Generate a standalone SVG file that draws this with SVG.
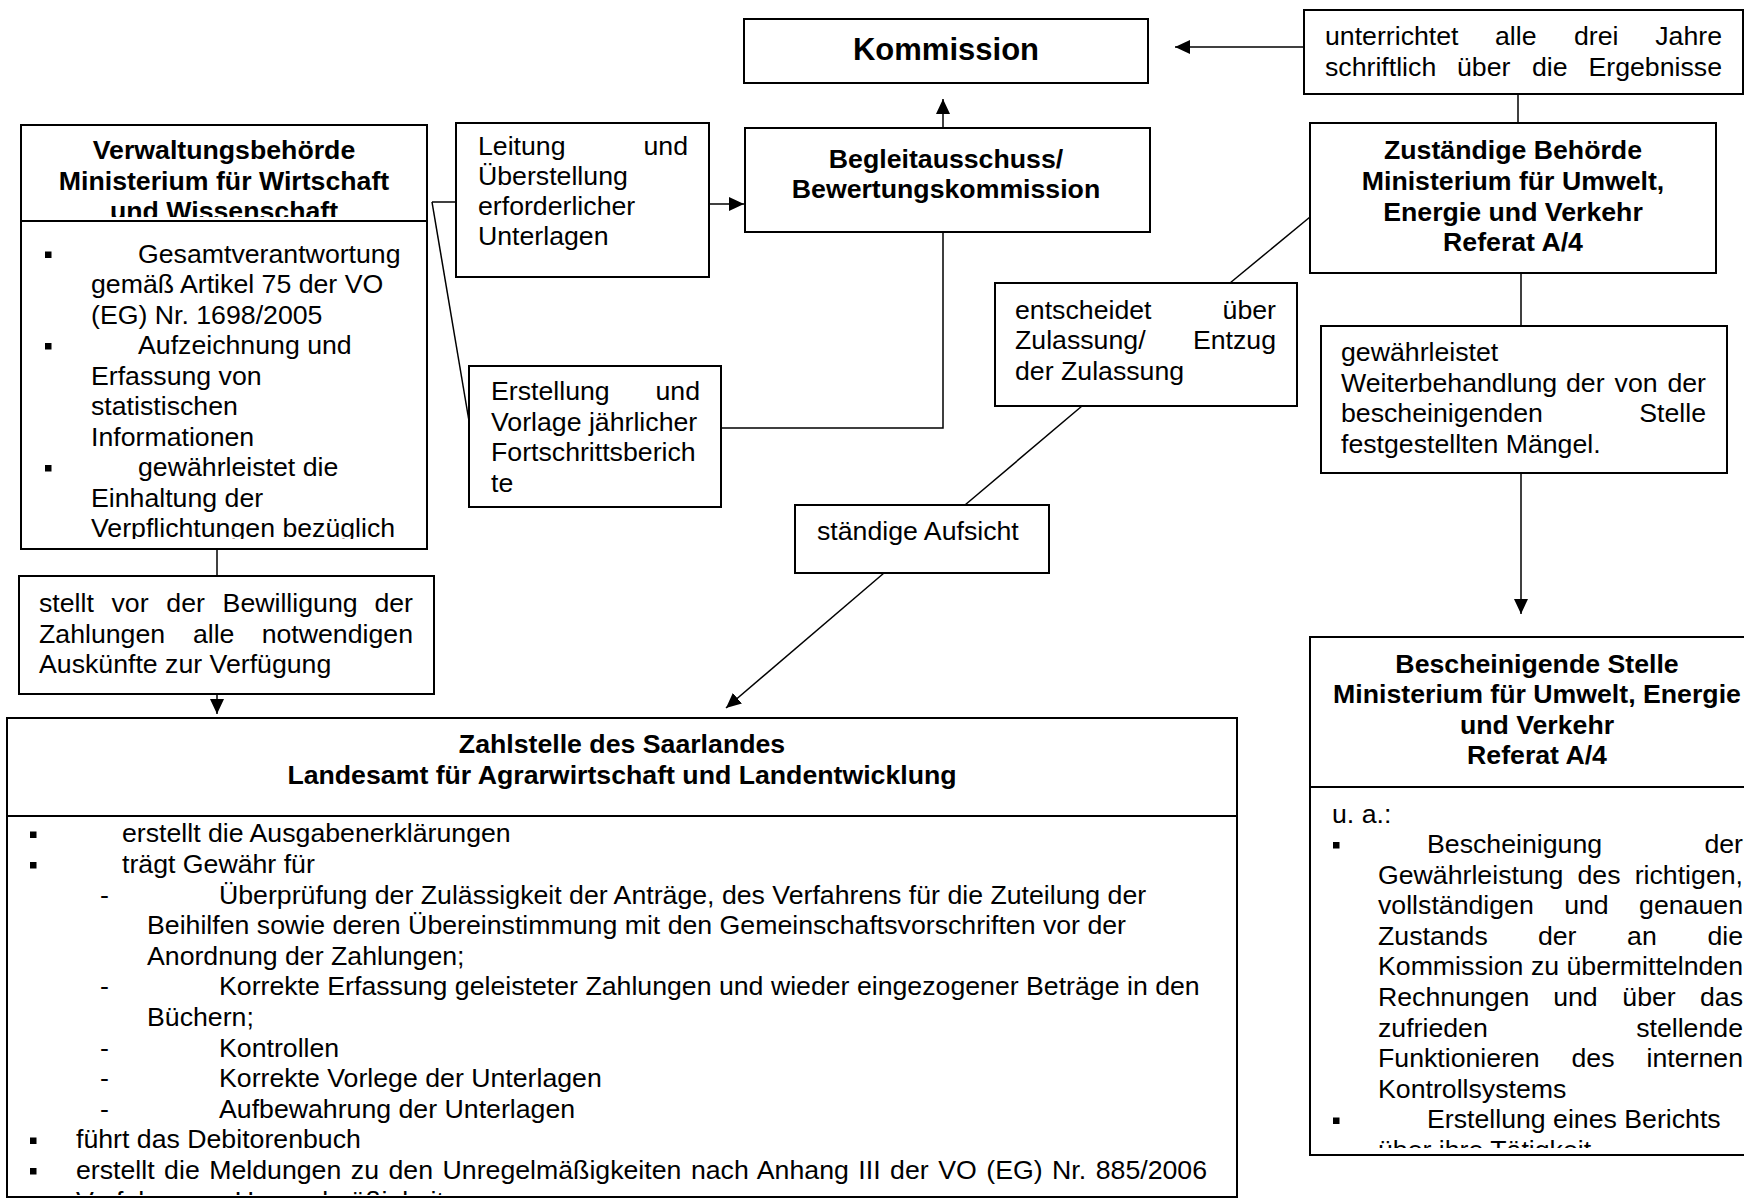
<svg xmlns="http://www.w3.org/2000/svg" width="1744" height="1201" viewBox="0 0 1744 1201">
<style>
.box{fill:#fff;stroke:#000;stroke-width:2}
.dv{stroke:#000;stroke-width:2}
.t{font-family:"Liberation Sans",Arial,sans-serif;font-size:26.7px;fill:#000}
.b{font-weight:bold}
.c{text-anchor:middle}
.e{text-anchor:end}
.ln{stroke:#000;stroke-width:1.5;fill:none}
.arr{marker-end:url(#ah)}
.bl{fill:#000}
</style>
<defs>
<marker id="ah" markerUnits="userSpaceOnUse" markerWidth="16" markerHeight="14" refX="15" refY="7" orient="auto"><path d="M0,0 L15,7 L0,14 z" fill="#000"/></marker>
<clipPath id="cVH"><rect x="21" y="125" width="406" height="92"/></clipPath>
<clipPath id="cVB"><rect x="21" y="221" width="406" height="318"/></clipPath>
<clipPath id="cZB"><rect x="7" y="816" width="1230" height="379"/></clipPath>
<clipPath id="cBB"><rect x="1310" y="787" width="440" height="361"/></clipPath>
</defs>

<g id="connectors">
<line class="ln arr" x1="1304" y1="47" x2="1175" y2="47"/>
<line class="ln" x1="1518" y1="94" x2="1518" y2="123"/>
<line class="ln arr" x1="943" y1="128" x2="943" y2="99"/>
<line class="ln" x1="432" y1="202" x2="456" y2="202"/>
<line class="ln" x1="432" y1="202" x2="469" y2="421"/>
<line class="ln arr" x1="709" y1="204" x2="744" y2="204"/>
<polyline class="ln" points="943,232 943,428 721,428"/>
<line class="ln" x1="1310" y1="217" x2="1230" y2="283"/>
<line class="ln" x1="1082" y1="406" x2="965" y2="505"/>
<line class="ln arr" x1="884" y1="573" x2="726" y2="708"/>
<line class="ln" x1="1521" y1="273" x2="1521" y2="326"/>
<line class="ln arr" x1="1521" y1="473" x2="1521" y2="614"/>
<line class="ln" x1="217" y1="549" x2="217" y2="576"/>
<line class="ln arr" x1="217" y1="694" x2="217" y2="714"/>
</g>

<g id="kommission">
<rect class="box" x="744" y="19" width="404" height="64"/>
<text class="t b c" x="946" y="60" style="font-size:31px">Kommission</text>
</g>

<g id="unterrichtet">
<rect class="box" x="1304" y="10" width="439" height="84"/>
<text class="t" y="45"><tspan x="1325">unterrichtet</tspan><tspan x="1495">alle</tspan><tspan x="1574">drei</tspan></text>
<text class="t e" x="1722" y="45">Jahre</text>
<text class="t" y="76"><tspan x="1325">schriftlich</tspan><tspan x="1457">über</tspan><tspan x="1532">die</tspan></text>
<text class="t e" x="1722" y="76">Ergebnisse</text>
</g>

<g id="begleitausschuss">
<rect class="box" x="745" y="128" width="405" height="104"/>
<text class="t b c" x="946" y="167.5">Begleitausschuss/</text>
<text class="t b c" x="946" y="198">Bewertungskommission</text>
</g>

<g id="leitung">
<rect class="box" x="456" y="123" width="253" height="154"/>
<text class="t" x="478" y="155">Leitung</text>
<text class="t e" x="688" y="155">und</text>
<text class="t" x="478" y="185">Überstellung</text>
<text class="t" x="478" y="215">erforderlicher</text>
<text class="t" x="478" y="245">Unterlagen</text>
</g>

<g id="erstellung">
<rect class="box" x="469" y="366" width="252" height="141"/>
<text class="t" x="491" y="400">Erstellung</text>
<text class="t e" x="700" y="400">und</text>
<text class="t" x="491" y="430.5">Vorlage jährlicher</text>
<text class="t" x="491" y="461">Fortschrittsberich</text>
<text class="t" x="491" y="491.5">te</text>
</g>

<g id="verwaltungsbehoerde">
<rect class="box" x="21" y="125" width="406" height="424"/>
<line class="dv" x1="21" y1="221" x2="427" y2="221"/>
<g clip-path="url(#cVH)">
<text class="t b c" x="224" y="159">Verwaltungsbehörde</text>
<text class="t b c" x="224" y="189.5">Ministerium für Wirtschaft</text>
<text class="t b c" x="224" y="220">und Wissenschaft</text>
</g>
<g clip-path="url(#cVB)">
<rect class="bl" x="45" y="251.5" width="6.5" height="6.5"/>
<text class="t" x="138" y="262.5">Gesamtverantwortung</text>
<text class="t" x="91" y="293">gemäß Artikel 75 der VO</text>
<text class="t" x="91" y="323.5">(EG) Nr. 1698/2005</text>
<rect class="bl" x="45" y="343" width="6.5" height="6.5"/>
<text class="t" x="138" y="354">Aufzeichnung und</text>
<text class="t" x="91" y="384.5">Erfassung von</text>
<text class="t" x="91" y="415">statistischen</text>
<text class="t" x="91" y="445.5">Informationen</text>
<rect class="bl" x="45" y="465" width="6.5" height="6.5"/>
<text class="t" x="138" y="476">gewährleistet die</text>
<text class="t" x="91" y="506.5">Einhaltung der</text>
<text class="t" x="91" y="537">Verpflichtungen bezüglich</text>
</g>
</g>

<g id="stellt-vor">
<rect class="box" x="19" y="576" width="415" height="118"/>
<text class="t" y="612"><tspan x="39">stellt</tspan><tspan x="111.5">vor</tspan><tspan x="166.3">der</tspan><tspan x="222.6">Bewilligung</tspan></text>
<text class="t e" x="413" y="612">der</text>
<text class="t" y="642.5"><tspan x="39">Zahlungen</tspan><tspan x="192.9">alle</tspan></text>
<text class="t e" x="413" y="642.5">notwendigen</text>
<text class="t" x="39" y="673">Auskünfte zur Verfügung</text>
</g>

<g id="entscheidet">
<rect class="box" x="995" y="283" width="302" height="123"/>
<text class="t" x="1015" y="318.5">entscheidet</text>
<text class="t e" x="1276" y="318.5">über</text>
<text class="t" x="1015" y="349">Zulassung/</text>
<text class="t e" x="1276" y="349">Entzug</text>
<text class="t" x="1015" y="379.5">der Zulassung</text>
</g>

<g id="staendige-aufsicht">
<rect class="box" x="795" y="505" width="254" height="68"/>
<text class="t" x="817" y="540">ständige Aufsicht</text>
</g>

<g id="zustaendige-behoerde">
<rect class="box" x="1310" y="123" width="406" height="150"/>
<text class="t b c" x="1513" y="159">Zuständige Behörde</text>
<text class="t b c" x="1513" y="190">Ministerium für Umwelt,</text>
<text class="t b c" x="1513" y="220.5">Energie und Verkehr</text>
<text class="t b c" x="1513" y="251">Referat A/4</text>
</g>

<g id="gewaehrleistet">
<rect class="box" x="1321" y="326" width="406" height="147"/>
<text class="t" x="1341" y="361">gewährleistet</text>
<text class="t" y="391.5"><tspan x="1341">Weiterbehandlung</tspan><tspan x="1566">der</tspan><tspan x="1614.6">von</tspan></text>
<text class="t e" x="1706" y="391.5">der</text>
<text class="t" x="1341" y="422">bescheinigenden</text>
<text class="t e" x="1706" y="422">Stelle</text>
<text class="t" x="1341" y="453">festgestellten Mängel.</text>
</g>

<g id="bescheinigende-stelle">
<rect class="box" x="1310" y="637" width="445" height="518"/>
<line class="dv" x1="1310" y1="787" x2="1744" y2="787"/>
<text class="t b c" x="1537" y="672.5">Bescheinigende Stelle</text>
<text class="t b c" x="1537" y="703">Ministerium für Umwelt, Energie</text>
<text class="t b c" x="1537" y="733.6">und Verkehr</text>
<text class="t b c" x="1537" y="764">Referat A/4</text>
<g clip-path="url(#cBB)">
<text class="t" x="1332" y="823">u. a.:</text>
<rect class="bl" x="1333" y="842" width="6.5" height="6.5"/>
<text class="t" x="1427" y="853">Bescheinigung</text>
<text class="t e" x="1743" y="853">der</text>
<text class="t" y="883.6"><tspan x="1378">Gewährleistung</tspan><tspan x="1577.5">des</tspan></text>
<text class="t e" x="1743" y="883.6">richtigen,</text>
<text class="t" y="914.2"><tspan x="1378">vollständigen</tspan><tspan x="1564.2">und</tspan></text>
<text class="t e" x="1743" y="914.2">genauen</text>
<text class="t" y="944.8"><tspan x="1378">Zustands</tspan><tspan x="1537.9">der</tspan><tspan x="1627.1">an</tspan></text>
<text class="t e" x="1743" y="944.8">die</text>
<text class="t" y="975.4"><tspan x="1378">Kommission</tspan><tspan x="1531">zu</tspan></text>
<text class="t e" x="1743" y="975.4">übermittelnden</text>
<text class="t" y="1006"><tspan x="1378">Rechnungen</tspan><tspan x="1553.2">und</tspan><tspan x="1622.3">über</tspan></text>
<text class="t e" x="1743" y="1006">das</text>
<text class="t" x="1378" y="1036.6">zufrieden</text>
<text class="t e" x="1743" y="1036.6">stellende</text>
<text class="t" y="1067.2"><tspan x="1378">Funktionieren</tspan><tspan x="1571.5">des</tspan></text>
<text class="t e" x="1743" y="1067.2">internen</text>
<text class="t" x="1378" y="1097.8">Kontrollsystems</text>
<rect class="bl" x="1333" y="1117.5" width="6.5" height="6.5"/>
<text class="t" x="1427" y="1128.4">Erstellung eines Berichts</text>
<text class="t" x="1378" y="1159">über ihre Tätigkeit</text>
</g>
</g>

<g id="zahlstelle">
<rect class="box" x="7" y="718" width="1230" height="479"/>
<line class="dv" x1="7" y1="816" x2="1237" y2="816"/>
<text class="t b c" x="622" y="753">Zahlstelle des Saarlandes</text>
<text class="t b c" x="622" y="783.5">Landesamt für Agrarwirtschaft und Landentwicklung</text>
<g clip-path="url(#cZB)">
<rect class="bl" x="30" y="831.5" width="6.5" height="6.5"/>
<text class="t" x="122" y="842.4">erstellt die Ausgabenerklärungen</text>
<rect class="bl" x="30" y="862" width="6.5" height="6.5"/>
<text class="t" x="122" y="873">trägt Gewähr für</text>
<text class="t" x="100" y="903.6">-</text>
<text class="t" x="219" y="903.6">Überprüfung der Zulässigkeit der Anträge, des Verfahrens für die Zuteilung der</text>
<text class="t" x="147" y="934.2">Beihilfen sowie deren Übereinstimmung mit den Gemeinschaftsvorschriften vor der</text>
<text class="t" x="147" y="964.8">Anordnung der Zahlungen;</text>
<text class="t" x="100" y="995.4">-</text>
<text class="t" x="219" y="995.4">Korrekte Erfassung geleisteter Zahlungen und wieder eingezogener Beträge in den</text>
<text class="t" x="147" y="1026">Büchern;</text>
<text class="t" x="100" y="1056.6">-</text>
<text class="t" x="219" y="1056.6">Kontrollen</text>
<text class="t" x="100" y="1087.2">-</text>
<text class="t" x="219" y="1087.2">Korrekte Vorlege der Unterlagen</text>
<text class="t" x="100" y="1117.8">-</text>
<text class="t" x="219" y="1117.8">Aufbewahrung der Unterlagen</text>
<rect class="bl" x="30" y="1137.5" width="6.5" height="6.5"/>
<text class="t" x="76" y="1148.4">führt das Debitorenbuch</text>
<rect class="bl" x="30" y="1168" width="6.5" height="6.5"/>
<text class="t" x="76" y="1179" style="word-spacing:2.1px">erstellt die Meldungen zu den Unregelmäßigkeiten nach Anhang III der VO (EG) Nr. 885/2006</text>
<text class="t" x="76" y="1209.6">Verfahren zu Unregelmäßigkeiten</text>
</g>
</g>
</svg>
